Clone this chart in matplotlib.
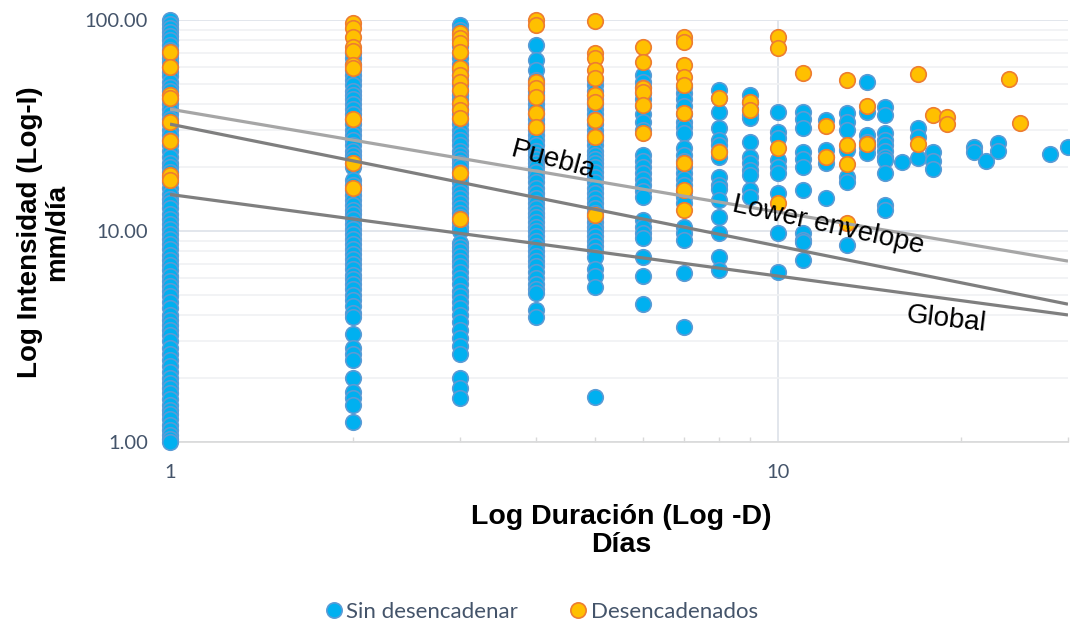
import matplotlib
matplotlib.use("Agg")
import matplotlib.pyplot as plt
from matplotlib.lines import Line2D
from matplotlib.ticker import FixedLocator, NullFormatter

# intensities (mm/dia), keyed by duration (dias)
sin_desencadenar = {
    1: [100, 96, 92, 88, 84, 80, 76, 72, 69, 66, 63, 60, 57, 54, 51, 48, 46, 44, 42, 40,
        38, 36, 34, 32, 30, 28.5, 27, 25.5, 24, 22.5, 21, 20, 19, 18, 17, 16, 15, 14.2,
        13.5, 12.8, 12, 11.4, 10.8, 10.2, 9.7, 9.2, 8.7, 8.2, 7.7, 7.3, 6.9, 6.5, 6.1,
        5.8, 5.5, 5.2, 4.9, 4.6, 4.3, 4.0, 3.8, 3.6, 3.4, 3.2, 3.0, 2.8, 2.6, 2.45, 2.3,
        2.15, 2.0, 1.9, 1.8, 1.7, 1.6, 1.5, 1.42, 1.35, 1.28, 1.2, 1.14, 1.08, 1.03, 1.0],
    2: [70, 66, 62, 58, 55, 52, 49, 46, 44, 42, 40, 38, 36, 34, 32, 30, 28.5, 27, 25.5,
        24, 23, 22, 21, 20, 17.4, 16.5, 15.6, 14.8, 14, 13.3, 12.6, 12, 11.4, 10.8, 10.2,
        9.7, 9.2, 8.7, 8.2, 7.8, 7.4, 7.0, 6.6, 6.2, 5.9, 5.6, 5.3, 5.0, 4.7, 4.4, 4.1,
        3.9, 3.25, 2.8, 2.6, 2.45, 2.0, 1.73, 1.62, 1.5, 1.24],
    3: [95, 90, 85, 80, 75, 70, 66, 62, 58, 55, 52, 49, 46, 44, 42, 40, 38, 36, 34, 32,
        30, 28.5, 27, 25.5, 24, 23, 22, 21, 20, 19, 18, 17, 16, 15.2, 14.4, 13.6, 12.9,
        12.2, 11.6, 11, 10.5, 10, 8.8, 8.4, 8.0, 7.6, 7.2, 6.8, 6.4, 6.0, 5.6, 5.2, 4.9,
        4.6, 4.3, 4.0, 3.7, 3.4, 3.1, 2.85, 2.6, 2.0, 1.8, 1.62],
    4: [76.2, 64.6, 58, 52, 49, 46, 44, 42, 40, 38, 36, 34, 32, 30, 28.5, 27, 25.5, 24,
        23, 22, 21, 20, 19, 18, 17, 16, 15.2, 14.4, 13.6, 12.9, 12.2, 11.6, 11, 10.5, 10,
        9.5, 9, 8.5, 8, 7.6, 7.2, 6.8, 6.4, 6.0, 5.6, 5.3, 5.1, 4.2, 3.9],
    5: [52, 49, 46, 44, 42, 40, 38, 36, 34, 32, 30, 28.5, 27, 25.5, 24, 23, 22, 21, 20,
        19, 18, 17, 16, 15.2, 14.4, 13.6, 12.9, 12.2, 11.6, 11, 10.5, 10, 9.5, 9, 8.5,
        8, 7.5, 6.6, 6.1, 5.4, 1.64],
    6: [54.9, 51, 48, 45, 42, 39, 36, 33, 30, 22.9, 21.5, 20, 18.8, 17.6, 16.5, 15.5,
        14.5, 11.3, 10.5, 9.8, 9.3, 7.5, 6.1, 4.5],
    7: [48, 45, 42, 39, 36, 33, 31, 29, 24.7, 23, 21.5, 20, 18.8, 17.6, 16.5, 15.5, 14.5,
        13.6, 10.4, 9.8, 9.1, 6.3, 3.5],
    8: [46.6, 42.7, 36.6, 30.8, 27, 25.5, 24, 22.4, 18, 16.5, 15.8, 14, 11.6, 9.8, 7.5, 6.5],
    9: [44.2, 40.9, 38, 35.5, 34.3, 26.4, 22.4, 21, 19.5, 18.4, 15.6, 14.5],
    10: [36.6, 29.5, 27.6, 21.7, 20.1, 18.8, 15.1, 9.8, 6.4],
    11: [36.6, 34, 30.8, 23.7, 22, 20.1, 15.6, 9.8, 9.1, 8.9, 7.3],
    12: [33.6, 24.2, 22.5, 21, 14.3],
    13: [36.2, 33, 30.1, 24.2, 18.0, 17.1, 8.6],
    14: [50.8, 36.6, 28.5, 26.5, 25, 23.4],
    15: [38.7, 35.5, 29.1, 27, 25.5, 24, 22.5, 21.7, 18.8, 13.3, 12.6],
    16: [21.2],
    17: [30.8, 27.9, 22.2],
    18: [23.7, 21.5, 19.7],
    21: [25, 23.7],
    22: [21.5],
    23: [26.1, 24],
    28: [23.2],
    30: [25],
}

desencadenados = {
    1: [70.5, 59.8, 44.2, 42.7, 32.9, 26.7, 18.4, 17.4],
    2: [96.8, 91.6, 83.0, 74.5, 71.3, 61.2, 59.3, 34.0, 21.0, 16.0],
    3: [86.7, 82.2, 77.8, 70.5, 59.3, 54.9, 50.8, 46.6, 40.4, 37.4, 34.3, 18.8, 11.4],
    4: [100, 94.7, 50.8, 47.6, 43.2, 36.2, 31.1],
    5: [99, 69.8, 66.1, 58, 53.1, 44.2, 40.9, 33.6, 27.9, 11.9],
    6: [74.5, 63.2, 47.6, 45.6, 39.6, 29.1],
    7: [83, 78.7, 61.2, 53.7, 49.2, 36.2, 21, 15.6, 12.6],
    8: [42.7, 23.7],
    9: [40.9, 37.4],
    10: [83, 73.7, 24.7, 13.6],
    11: [56.1],
    12: [31.5, 22.4],
    13: [52, 25.6, 20.8, 10.9],
    14: [39.1, 25.8],
    17: [55.5, 25.8],
    18: [35.5],
    19: [34.7, 32.2],
    24: [52.5],
    25: [32.5],
}

# threshold lines (end points)
line_dur = [1, 30]
puebla_int = [37.8, 7.2]
lower_int = [32.1, 4.5]
global_int = [14.9, 4.0]

tick_color = "#44546A"

fig = plt.figure(figsize=(10.7, 6.26), dpi=100)
ax = fig.add_axes([170 / 1070, 1 - 442 / 626, 898 / 1070, 422 / 626])
ax.set_xscale("log")
ax.set_yscale("log")
ax.set_xlim(1, 30)
ax.set_ylim(1, 100)

for d, vals in sin_desencadenar.items():
    ax.scatter([d] * len(vals), vals, s=125, color="#00B0F0", edgecolors="#5B9BD5",
               linewidths=1.2, zorder=3, clip_on=False)
for d, vals in desencadenados.items():
    ax.scatter([d] * len(vals), vals, s=125, color="#FFC000", edgecolors="#ED7D31",
               linewidths=1.2, zorder=4, clip_on=False)

ax.plot(line_dur, puebla_int, color="#A6A6A6", lw=2.3, zorder=5, solid_capstyle="butt")
ax.plot(line_dur, lower_int, color="#7F7F7F", lw=2.3, zorder=5, solid_capstyle="butt")
ax.plot(line_dur, global_int, color="#7F7F7F", lw=2.3, zorder=5, solid_capstyle="butt")

lab_font = dict(family="Liberation Sans", fontsize=20, color="black",
                ha="center", va="center", rotation_mode="anchor", zorder=6)
ax.text(0.4265, 0.668, "Puebla", rotation=-15, transform=ax.transAxes, **lab_font)
ax.text(0.733, 0.514, "Lower envelope", rotation=-12.5, transform=ax.transAxes, **lab_font)
ax.text(0.865, 0.289, "Global", rotation=-6.5, transform=ax.transAxes, **lab_font)

# ticks and grid
ax.set_yticks([1, 10, 100])
ax.set_yticklabels(["1.00", "10.00", "100.00"])
ax.yaxis.set_minor_locator(FixedLocator([2, 3, 4, 5, 6, 7, 8, 9, 20, 30, 40, 50, 60, 70, 80, 90]))
ax.yaxis.set_minor_formatter(NullFormatter())
ax.set_xticks([1, 10])
ax.set_xticklabels(["1", "10"])
ax.xaxis.set_minor_locator(FixedLocator([2, 3, 4, 5, 6, 7, 8, 9, 20, 30]))
ax.xaxis.set_minor_formatter(NullFormatter())
ax.tick_params(axis="y", which="both", length=0, pad=16, labelsize=14.5,
               labelcolor=tick_color, labelfontfamily="Lato")
ax.tick_params(axis="x", which="major", length=0, pad=16, labelsize=14.5,
               labelcolor=tick_color, labelfontfamily="Lato")
ax.tick_params(axis="x", which="minor", length=3.5, direction="in", color="#D9D9D9", width=1)
ax.grid(True, which="major", axis="y", color="#DDE2E9", lw=1.2, zorder=0)
ax.grid(True, which="minor", axis="y", color="#F0F1F3", lw=1.2, zorder=0)
ax.grid(True, which="major", axis="x", color="#DDE2E9", lw=1.2, zorder=0)
ax.set_axisbelow(True)
for side in ["top", "right", "left"]:
    ax.spines[side].set_visible(False)
ax.spines["bottom"].set_color("#D9D9D9")
ax.spines["bottom"].set_linewidth(1.2)

fig.text(44 / 1070, 1 - 232 / 626, "Log Intensidad (Log-I)\nmm/día", rotation=90,
         ha="center", va="center", fontsize=20, fontweight="bold",
         family="Liberation Sans", linespacing=1.05)
fig.text(621 / 1070, 1 - 531 / 626, "Log Duración (Log -D)\nDías", ha="center",
         va="center", fontsize=20.5, fontweight="bold", family="Liberation Sans",
         linespacing=1.1)

handles = [
    Line2D([], [], ls="none", marker="o", ms=11, mfc="#00B0F0", mec="#5B9BD5", mew=1.2),
    Line2D([], [], ls="none", marker="o", ms=11, mfc="#FFC000", mec="#ED7D31", mew=1.2),
]
fig.legend(handles, ["Sin desencadenar", "Desencadenados"], loc="center",
           bbox_to_anchor=(0.505, 1 - 612 / 626), ncol=2, frameon=False,
           handletextpad=0.05, columnspacing=2.2, handlelength=1.0,
           prop={"family": "Lato", "size": 16}, labelcolor=tick_color)

fig.savefig("out.png", dpi=100)
